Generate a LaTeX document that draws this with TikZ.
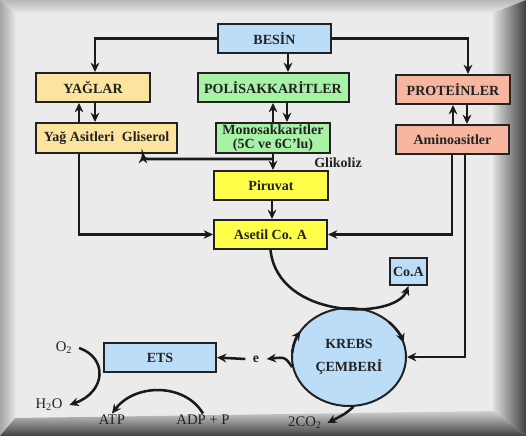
\documentclass[tikz,border=0pt]{standalone}
\usepackage{fontspec}
\setmainfont{Liberation Serif}
\usetikzlibrary{arrows.meta,calc,shapes.geometric}
\definecolor{cblue}{HTML}{BCDDF8}
\definecolor{cyag}{HTML}{FCE49E}
\definecolor{cgreen}{HTML}{A8F2A8}
\definecolor{csalmon}{HTML}{F6B6A0}
\definecolor{cyellow}{HTML}{FFFF4A}
\definecolor{boxline}{HTML}{222222}
\definecolor{arrcol}{HTML}{1A1A1A}
\definecolor{inner}{HTML}{EBEBEB}
\begin{document}
\begin{tikzpicture}[x=0.75pt,y=-0.75pt,
  box/.style={draw=boxline,line width=1.5pt,minimum height=21.75pt,inner sep=1pt,
    font=\fontsize{10.5}{10}\selectfont\bfseries,text=boxline,align=center},
  arr/.style={line width=1.9pt,draw=arrcol,-{Stealth[length=7pt,width=6.5pt]}},
  lbl/.style={inner sep=1pt,text=boxline,font=\fontsize{11}{12}\selectfont},
  blbl/.style={lbl,font=\fontsize{10.5}{12}\selectfont\bfseries}
]
% frame
\useasboundingbox (0,0) rectangle (526,436);
\fill[inner] (0,0) rectangle (526,436);
\shade[top color=black!28,bottom color=black!9] (0,0) -- (526,0) -- (493,13) -- (15,13) -- cycle;
\shade[left color=black!35,right color=black!11] (0,0) -- (15,13) -- (15,418) -- (0,436) -- cycle;
\shade[left color=black!12,right color=black!75] (526,0) -- (493,13) -- (493,411) -- (526,436) -- cycle;
\shade[top color=black!18,bottom color=black!75] (0,436) -- (15,418) -- (493,411) -- (526,436) -- cycle;

% x positions of vertical connectors
\coordinate (x79) at (79,0);
\coordinate (x95) at (95,0);
\coordinate (x143) at (143,0);
\coordinate (x272) at (272,0);
\coordinate (x273) at (273,0);
\coordinate (x287) at (287,0);
\coordinate (x288) at (288,0);
\coordinate (x452) at (452,0);
\coordinate (x453) at (453,0);
\coordinate (x465) at (465,0);
\coordinate (x467) at (467,0);
\coordinate (x468) at (468,0);

% boxes
\node[box,fill=cblue,minimum width=84.75pt] (besin) at (274.5,38.5) {BESİN};
\node[box,fill=cyag,minimum width=85.5pt] (yaglar) at (93,87.5) {YAĞLAR};
\node[box,fill=cgreen,minimum width=113.25pt] (poli) at (273,87.5) {POLİSAKKARİTLER};
\node[box,fill=csalmon,minimum width=85.5pt] (prot) at (453,89.5) {PROTEİNLER};
\node[box,fill=cyag,minimum width=105.75pt,minimum height=22.5pt] (yag2) at (106.5,138) {Yağ Asitleri\hspace{0.55em}Gliserol};
\node[box,fill=cgreen,minimum width=85.5pt,minimum height=22.5pt] (mono) at (273,138) {Monosakkaritler\\(5C ve 6C'lu)};
\node[box,fill=csalmon,minimum width=84.75pt] (amino) at (452.5,139.5) {Aminoasitler};
\node[box,fill=cyellow,minimum width=85.5pt] (piruvat) at (271,185.5) {Piruvat};
\node[box,fill=cyellow,minimum width=84.75pt] (asetil) at (270.5,234.5) {Asetil Co. A};
\node[box,fill=cblue,minimum width=27.75pt,minimum height=20.25pt] (coa) at (408.5,271.5) {Co.A};
\node[box,fill=cblue,minimum width=84pt] (ets) at (160,357.5) {ETS};
\node[box,ellipse,fill=cblue,minimum width=85.5pt,minimum height=73.5pt,inner sep=0pt,
  font=\fontsize{10.5}{17}\selectfont\bfseries] (krebs) at (349,357) {KREBS\\ÇEMBERİ};

% labels
\node[blbl] (glik) at (338,163) {Glikoliz};
\node[blbl,inner xsep=5.5pt] (e) at (256,359) {e};
\node[lbl,inner xsep=5pt] (o2) at (64,348) {O\textsubscript{2}};
\node[lbl,inner xsep=5pt] (h2o) at (49,405) {H\textsubscript{2}O};
\node[lbl] (atp) at (112,420) {ATP};
\node[lbl] (adp) at (203,420) {ADP + P};
\node[lbl,inner xsep=4pt] (co2) at (305,423) {2CO\textsubscript{2}};

% connectors
\draw[arr] (besin.west) -| (yaglar.north -| x95);
\draw[arr] (besin.south -| x288) -- (poli.north -| x288);
\draw[arr] (besin.east) -| (prot.north -| x468);
\draw[arr] (yag2.north -| x79) -- (yaglar.south -| x79);
\draw[arr] (yaglar.south -| x95) -- (yag2.north -| x95);
\draw[arr] (mono.north -| x273) -- (poli.south -| x273);
\draw[arr] (poli.south -| x287) -- (mono.north -| x287);
\draw[arr] (amino.north -| x453) -- (prot.south -| x453);
\draw[arr] (prot.south -| x467) -- (amino.north -| x467);
\draw[arr] (yag2.south -| x79) |- (asetil.west);
\draw[arr] (mono.south -| x273) -- (piruvat.north -| x273);
\coordinate (gj) at (273,159);
\draw[arr,rounded corners=3pt] (gj) -| (yag2.south -| x143);
\draw[arr] (piruvat.south -| x272) -- (asetil.north -| x272);
\draw[arr] (amino.south -| x452) |- (asetil.east);
\draw[arr] (amino.south -| x465) |- (krebs.east);
\draw[arr] (asetil.south) .. controls (278,320) and (395,320) .. (coa.south);

% Krebs cycle arrows
\coordinate (kc) at (349,357);
\draw[arr] ($(kc)+(185:57 and 49)$) arc[start angle=185,end angle=212,x radius=57,y radius=49];
\draw[arr] ($(kc)+(315:57 and 49)$) arc[start angle=315,end angle=343,x radius=57,y radius=49];
\draw[arr] (krebs.190) .. controls (285,357) .. (e.east);
\draw[arr] (e.west) -- (ets.east);
\draw[arr] (krebs.275) .. controls (345,414) .. (co2.east);

% ETS side
\draw[arr] (o2.east) .. controls (108,358) and (106,392) .. (h2o.east);
\draw[arr] (adp.north) .. controls (185,383) and (135,383) .. (atp.north);
\end{tikzpicture}
\end{document}
